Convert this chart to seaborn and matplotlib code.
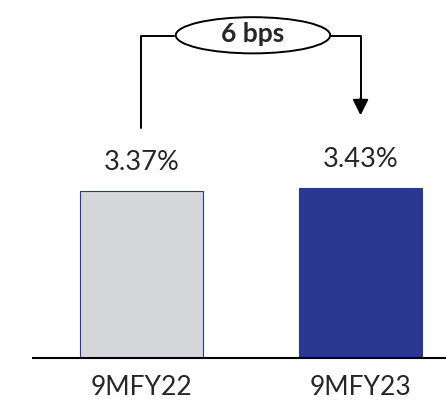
import matplotlib
matplotlib.use("Agg")
import matplotlib.pyplot as plt
from matplotlib.patches import Ellipse
import seaborn as sns
import pandas as pd

# veriler
donemler = ["9MFY22", "9MFY23"]
oranlar = [3.37, 3.43]
renkler = ["#d5d6da", "#2a3894"]
fark_etiketi = "6 bps"

df = pd.DataFrame({"donem": donemler, "oran": oranlar})

sns.set_style("white")
plt.rcParams["font.family"] = ["Lato", "DejaVu Sans"]

fig = plt.figure(figsize=(4.46, 4.00), dpi=100)
ax = fig.add_axes([33 / 446, 42 / 400, 413 / 446, 348 / 400])

sns.barplot(data=df, x="donem", y="oran", hue="donem", palette=renkler,
            width=0.56, legend=False, ax=ax, saturation=1)
for bar in ax.patches:
    bar.set_edgecolor("#2a3894")
    bar.set_linewidth(0.8)

ax.set_ylim(0, 7.02)
ax.set_xlim(-0.495, 1.39)

# yüzde etiketleri
for i, v in enumerate(oranlar):
    ax.text(i, v + 0.58, f"{v:.2f}%", ha="center", va="center", fontsize=19.5)

# köprü ok
y_ust = 6.49
ax.plot([0, 0, 0.15], [4.64, y_ust, y_ust], color="black", lw=1.4)
ax.plot([0.86, 1, 1], [y_ust, y_ust, 5.2], color="black", lw=1.4)
ax.annotate("", xy=(1, 4.84), xytext=(1, 5.3),
            arrowprops=dict(arrowstyle="-|>", color="black", lw=1.4,
                            mutation_scale=24))
ax.add_patch(Ellipse((0.509, 6.51), 0.705, 0.73, facecolor="white",
                     edgecolor="black", lw=1.4, zorder=3))
ax.text(0.509, 6.53, fark_etiketi, ha="center", va="center", fontsize=19,
        fontweight="bold", zorder=4)

sns.despine(ax=ax, left=True)
ax.spines["bottom"].set_linewidth(1.5)
ax.spines["bottom"].set_color("black")
ax.set_yticks([])
ax.set_xlabel("")
ax.set_ylabel("")
ax.tick_params(axis="x", length=0, labelsize=19, pad=12)

fig.savefig("out.png", dpi=100)
